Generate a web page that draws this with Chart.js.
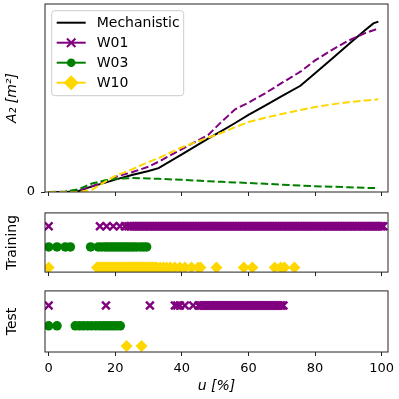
<!DOCTYPE html>
<html>
<head>
<meta charset="utf-8">
<script src="https://cdn.jsdelivr.net/npm/chart.js@4/dist/chart.umd.min.js"></script>
<style>
  html, body { margin: 0; padding: 0; background: #fff; }
  #wrap { position: relative; width: 399px; height: 399px; overflow: hidden; }
  canvas { position: absolute; left: 0; }
</style>
</head>
<body>
<div id="wrap">
  <canvas id="topChart" width="399" height="200" style="top:0"></canvas>
  <canvas id="trainChart" width="399" height="75" style="top:205px"></canvas>
  <canvas id="testChart" width="399" height="116" style="top:283px"></canvas>
</div>
<script>
// top panel: A2 against u
const uTop = [0, 5, 9, 13, 17, 20, 25, 30, 33, 40, 48, 52, 56, 60, 65, 70, 75.6, 80, 85, 90, 95, 97.5, 99]
const mechanistic = [0, 0, 0.005, 0.03, 0.05, 0.066, 0.09, 0.112, 0.127, 0.2, 0.285, 0.325, 0.367, 0.41, 0.46, 0.51, 0.565, 0.632, 0.708, 0.784, 0.86, 0.897, 0.906]
const w01 = [0, 0.001, 0.008, 0.03, 0.058, 0.08, 0.105, 0.135, 0.161, 0.228, 0.305, 0.375, 0.44, 0.475, 0.525, 0.58, 0.64, 0.7, 0.755, 0.805, 0.845, 0.86, 0.87]
const w03 = [0, 0.003, 0.015, 0.045, 0.062, 0.07, 0.074, 0.072, 0.07, 0.065, 0.057, 0.054, 0.051, 0.048, 0.044, 0.039, 0.034, 0.031, 0.028, 0.025, 0.022, 0.021, 0.02]
const w10 = [0, 0, 0, 0.012, 0.055, 0.085, 0.12, 0.16, 0.18, 0.238, 0.29, 0.315, 0.345, 0.372, 0.395, 0.415, 0.436, 0.452, 0.466, 0.478, 0.487, 0.49, 0.493]

// training samples (u values per well)
const trainW01 = [0, 15.4, 17.4, 19.4, 21.4, 22.9, 23.9,
  24.5, 25, 25.5, 26, 26.5, 27, 27.5, 28, 28.5, 29, 29.5, 30, 30.5, 31, 31.5, 32, 32.5, 33, 33.5, 34,
  34.5, 35, 35.5, 36, 36.5, 37, 37.5, 38, 38.5, 39, 39.5, 40, 40.5, 41, 41.5, 42, 42.5, 43, 43.5, 44,
  44.5, 45, 45.5, 46, 46.5, 47, 47.5, 48, 48.5, 49, 49.5, 50, 50.5, 51, 51.5, 52, 52.5, 53, 53.5, 54,
  54.5, 55, 55.5, 56, 56.5, 57, 57.5, 58, 58.5, 59, 59.5, 60, 60.5, 61, 61.5, 62, 62.5, 63, 63.5, 64,
  64.5, 65, 65.5, 66, 66.5, 67, 67.5, 68, 68.5, 69, 69.5, 70, 70.5, 71, 71.5, 72, 72.5, 73, 73.5, 74,
  74.5, 75, 75.5, 76, 76.5, 77, 77.5, 78, 78.5, 79, 79.5, 80, 80.5, 81, 81.5, 82, 82.5, 83, 83.5, 84,
  84.5, 85, 85.5, 86, 86.5, 87, 87.5, 88, 88.5, 89, 89.5, 90, 90.5, 91, 91.5, 92, 92.5, 93, 93.5, 94,
  94.5, 95, 95.5, 96, 96.5, 97, 97.5, 98, 98.5, 99, 99.5, 100, 100.5]
const trainW03 = [0, 2.5, 5, 6.5, 12.6, 14.9, 15.9, 16.9, 17.6, 18.4, 19.2, 20, 20.8, 21.6, 22.4, 23.2, 24, 24.8, 25.6, 26.5, 27.6, 28.5, 29.4]
const trainW10 = [0, 14.5, 15, 15.5, 16, 16.5, 17, 17.5, 18, 18.5, 19, 19.5, 20, 20.5, 21, 21.5, 22, 22.5, 23,
  23.5, 24, 24.5, 25, 25.5, 26, 26.5, 27, 27.5, 28, 28.5, 29, 29.5, 30, 30.5, 31, 31.5, 32, 32.5,
  33.5, 34.5, 35.4, 36.5, 37.9, 39.4, 40.9, 42.9, 44.9, 45.6, 50.4, 58.6, 61.2, 67.9, 69.7, 70.8, 73.8]

// test samples
const testW01 = [0, 17.2, 30.4, 37.9, 38.6, 39.4, 40.9, 43.4,
  45, 45.5, 46, 46.5, 47, 47.5, 48, 48.5, 49, 49.5, 50, 50.5, 51, 51.5, 52, 52.5, 53, 53.5, 54,
  54.5, 55, 55.5, 56, 56.5, 57, 57.5, 58, 58.5, 59, 59.5, 60, 60.5, 61, 61.5, 62, 62.5, 63, 63.5, 64,
  64.5, 65, 65.5, 66, 66.5, 67, 67.5, 68, 68.5, 69, 69.5, 70, 70.5]
const testW03 = [0, 2.5, 8, 9.2, 10.4, 11.7, 12.9, 14.2, 15.4, 16.4, 17.4, 18.4, 19.4, 20.4, 21.5]
const testW10 = [23.4, 27.9]

const xTicks = [0, 20, 40, 60, 80, 100]
const seriesNames = ['Mechanistic', 'W01', 'W03', 'W10']
const rowOf = { W01: 2, W03: 1, W10: 0 }

const PURPLE = '#800080', GREEN = '#008000', GOLD = '#ffd700', AXIS = '#222'
const FONT = 'DejaVu Sans'

Chart.defaults.font.family = FONT
Chart.defaults.color = '#000'

const frame = {
  id: 'frame',
  afterDatasetsDraw(chart) {
    const { ctx, chartArea: a } = chart
    ctx.save()
    ctx.strokeStyle = AXIS
    ctx.lineWidth = 1
    ctx.strokeRect(a.left, a.top, a.right - a.left, a.bottom - a.top)
    ctx.restore()
  }
}

function marker(ctx, style, x, y, r, color) {
  ctx.save()
  ctx.fillStyle = color
  ctx.strokeStyle = color
  ctx.beginPath()
  if (style === 'crossRot') {
    const d = r * Math.SQRT1_2
    ctx.lineWidth = 2
    ctx.moveTo(x - d, y - d); ctx.lineTo(x + d, y + d)
    ctx.moveTo(x - d, y + d); ctx.lineTo(x + d, y - d)
    ctx.stroke()
  } else if (style === 'circle') {
    ctx.arc(x, y, r, 0, Math.PI * 2)
    ctx.fill()
  } else if (style === 'rectRot') {
    ctx.moveTo(x - r, y); ctx.lineTo(x, y - r); ctx.lineTo(x + r, y); ctx.lineTo(x, y + r)
    ctx.closePath()
    ctx.fill()
  }
  ctx.restore()
}

// matplotlib-style legend box in the upper left of the top panel
const boxLegend = {
  id: 'boxLegend',
  afterDraw(chart) {
    const { ctx, chartArea: a } = chart
    const x0 = a.left + 6.7, y0 = a.top + 6.7
    ctx.save()
    ctx.fillStyle = 'rgba(255,255,255,0.8)'
    ctx.strokeStyle = '#cccccc'
    ctx.lineWidth = 1
    ctx.beginPath()
    ctx.roundRect(x0, y0, 132, 85, 3)
    ctx.fill()
    ctx.stroke()
    const markers = [null, ['crossRot', 6], ['circle', 4.3], ['rectRot', 7.5]]
    chart.data.datasets.forEach((ds, i) => {
      const y = a.top + 18.7 + i * 20
      ctx.strokeStyle = ds.borderColor
      ctx.lineWidth = 2
      ctx.setLineDash([])
      ctx.beginPath()
      ctx.moveTo(a.left + 11.7, y)
      ctx.lineTo(a.left + 40.7, y)
      ctx.stroke()
      if (markers[i]) marker(ctx, markers[i][0], a.left + 26.2, y, markers[i][1], ds.borderColor)
      ctx.fillStyle = '#000'
      ctx.font = '14px "' + FONT + '"'
      ctx.textBaseline = 'middle'
      ctx.fillText(ds.label, a.left + 51.7, y + 1)
    })
    ctx.restore()
  }
}

function xScale(height, extra) {
  return Object.assign({
    type: 'linear', min: -1.1, max: 101.9,
    afterBuildTicks: s => { s.ticks = xTicks.map(v => ({ value: v })) },
    afterFit: s => { s.height = height; s.paddingLeft = 0; s.paddingRight = 0 },
    grid: { drawOnChartArea: false, tickLength: 4, color: AXIS },
    border: { display: false },
    ticks: { display: false }
  }, extra)
}

function yTitle(text, italic) {
  return { display: true, text, padding: { top: 4, bottom: 0 }, font: { size: 14, style: italic ? 'italic' : 'normal' } }
}

new Chart(document.getElementById('topChart'), {
  type: 'line',
  data: {
    datasets: [
      { label: seriesNames[0], data: uTop.map((u, i) => ({ x: u, y: mechanistic[i] })), borderColor: '#000', borderWidth: 2, order: 4 },
      { label: seriesNames[1], data: uTop.map((u, i) => ({ x: u, y: w01[i] })), borderColor: PURPLE, borderWidth: 2, borderDash: [7.5, 3.2], order: 3 },
      { label: seriesNames[2], data: uTop.map((u, i) => ({ x: u, y: w03[i] })), borderColor: GREEN, borderWidth: 2, borderDash: [7.5, 3.2], order: 2 },
      { label: seriesNames[3], data: uTop.map((u, i) => ({ x: u, y: w10[i] })), borderColor: GOLD, borderWidth: 2, borderDash: [7.5, 3.2], order: 1 }
    ]
  },
  options: {
    responsive: false, animation: false, devicePixelRatio: 1,
    layout: { padding: { top: 4, right: 11, left: 0, bottom: 0 } },
    elements: { point: { radius: 0 }, line: { tension: 0 } },
    plugins: { legend: { display: false }, tooltip: { enabled: false } },
    scales: {
      x: xScale(8),
      y: {
        min: 0, max: 1,
        afterBuildTicks: s => { s.ticks = [{ value: 0 }] },
        afterFit: s => { s.width = 45; s.paddingTop = 0; s.paddingBottom = 0 },
        grid: { drawOnChartArea: false, tickLength: 4, color: AXIS },
        border: { display: false },
        ticks: { padding: 6, font: { size: 13 }, callback: v => String(v) },
        title: yTitle('A₂ [m²]', true)
      }
    }
  },
  plugins: [frame, boxLegend]
})

function rowsChart(id, rows, yMin, yMax, title, xOpts, padTop) {
  const points = (xs, name) => xs.map(x => ({ x, y: rowOf[name] }))
  return new Chart(document.getElementById(id), {
    type: 'scatter',
    data: {
      datasets: [
        { label: 'W01', data: points(rows[0], 'W01'), pointStyle: 'crossRot', pointRadius: 5.5, pointBorderWidth: 2.4, borderColor: PURPLE, backgroundColor: PURPLE },
        { label: 'W03', data: points(rows[1], 'W03'), pointStyle: 'circle', pointRadius: 4.8, pointBorderWidth: 0, borderColor: GREEN, backgroundColor: GREEN },
        { label: 'W10', data: points(rows[2], 'W10'), pointStyle: 'rectRot', pointRadius: 6, pointBorderWidth: 0, borderColor: GOLD, backgroundColor: GOLD }
      ]
    },
    options: {
      responsive: false, animation: false, devicePixelRatio: 1,
      layout: { padding: { top: padTop, right: 11, left: 0, bottom: 0 } },
      plugins: { legend: { display: false }, tooltip: { enabled: false } },
      scales: {
        x: xOpts,
        y: {
          min: yMin, max: yMax,
          afterFit: s => { s.width = 45; s.paddingTop = 0; s.paddingBottom = 0 },
          grid: { display: false },
          border: { display: false },
          ticks: { display: false },
          title: yTitle(title, false)
        }
      }
    },
    plugins: [frame]
  })
}

rowsChart('trainChart', [trainW01, trainW03, trainW10], -0.22, 2.65, 'Training', xScale(7), 6)

rowsChart('testChart', [testW01, testW03, testW10], -0.29, 2.72, 'Test', xScale(47, {
  ticks: { display: true, padding: 5, font: { size: 13 }, callback: v => String(v) },
  title: { display: true, text: 'u [%]', padding: { top: 0, bottom: 4 }, font: { size: 14, style: 'italic' } }
}), 6.3)
</script>
</body>
</html>
